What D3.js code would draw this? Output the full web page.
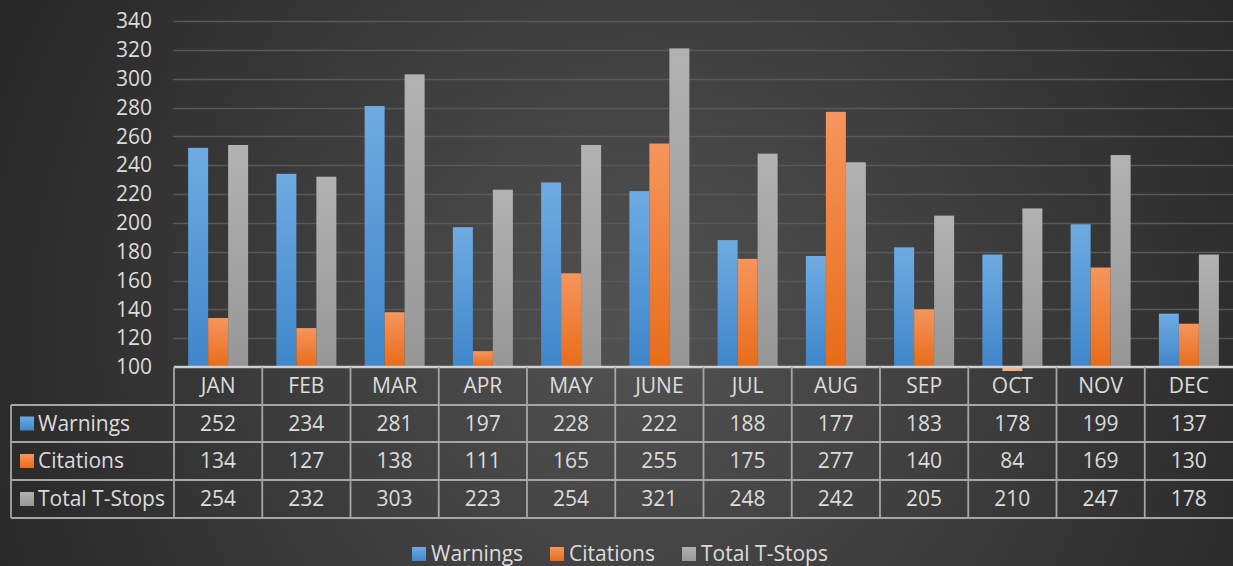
<!DOCTYPE html>
<html>
<head>
<meta charset="utf-8">
<script src="https://cdn.jsdelivr.net/npm/d3@7"></script>
<style>
  html, body { margin: 0; padding: 0; background: #333; }
  svg { display: block; }
</style>
</head>
<body>
<script>
const width = 1233;
const height = 566;

// data
const months = ['JAN', 'FEB', 'MAR', 'APR', 'MAY', 'JUNE', 'JUL', 'AUG', 'SEP', 'OCT', 'NOV', 'DEC'];
const seriesNames = ['Warnings', 'Citations', 'Total T-Stops'];
const warnings = [252, 234, 281, 197, 228, 222, 188, 177, 183, 178, 199, 137];
const citations = [134, 127, 138, 111, 165, 255, 175, 277, 140, 84, 169, 130];
const totalStops = [254, 232, 303, 223, 254, 321, 248, 242, 205, 210, 247, 178];
const yTicks = [100, 120, 140, 160, 180, 200, 220, 240, 260, 280, 300, 320, 340];

const seriesValues = [warnings, citations, totalStops];
const seriesColors = [
  { id: 'g-blue', top: '#6eabe2', bottom: '#3f86ca' },
  { id: 'g-orange', top: '#f6955d', bottom: '#e86c19' },
  { id: 'g-gray', top: '#b2b2b2', bottom: '#979797' },
];

const textColor = '#dcdcdc';
const fontFamily = '"Open Sans", "Noto Sans", sans-serif';
const fontSize = '21px';

const svg = d3.select('body')
  .append('svg')
  .attr('width', width)
  .attr('height', height)
  .attr('viewBox', `0 0 ${width} ${height}`);

const defs = svg.append('defs');

// background radial gradient
const bg = defs.append('radialGradient')
  .attr('id', 'bg')
  .attr('gradientUnits', 'userSpaceOnUse')
  .attr('cx', 640)
  .attr('cy', 330)
  .attr('r', 720);
bg.append('stop').attr('offset', '0%').attr('stop-color', '#525252');
bg.append('stop').attr('offset', '100%').attr('stop-color', '#262626');

seriesColors.forEach((c) => {
  const g = defs.append('linearGradient')
    .attr('id', c.id)
    .attr('x1', '0%').attr('y1', '0%')
    .attr('x2', '0%').attr('y2', '100%');
  g.append('stop').attr('offset', '0%').attr('stop-color', c.top);
  g.append('stop').attr('offset', '100%').attr('stop-color', c.bottom);
});

svg.append('rect')
  .attr('width', width)
  .attr('height', height)
  .attr('fill', 'url(#bg)');

// scales
const plotLeft = 174;
const plotRight = 1233;
const plotTop = 21;
const plotBottom = 367;

const x = d3.scaleBand()
  .domain(months)
  .range([plotLeft, plotRight])
  .paddingInner(0)
  .paddingOuter(0);

const groupWidth = 60;
const xInner = d3.scaleBand()
  .domain(seriesNames)
  .range([(x.bandwidth() - groupWidth) / 2, (x.bandwidth() + groupWidth) / 2]);

const y = d3.scaleLinear()
  .domain([100, 340])
  .range([plotBottom, plotTop]);

// gridlines
svg.append('g')
  .selectAll('line')
  .data(yTicks.slice(1))
  .enter()
  .append('line')
  .attr('x1', plotLeft - 1)
  .attr('x2', plotRight)
  .attr('y1', (d) => Math.round(y(d)) + 0.5)
  .attr('y2', (d) => Math.round(y(d)) + 0.5)
  .attr('stroke', '#595959')
  .attr('stroke-width', 1.3);

// y axis labels
const yAxis = svg.append('g')
  .attr('transform', `translate(${plotLeft - 22}, 0)`)
  .call(d3.axisLeft(y).tickValues(yTicks).tickSize(0).tickPadding(0));
yAxis.select('.domain').remove();
yAxis.selectAll('text')
  .attr('fill', textColor)
  .attr('font-size', fontSize)
  .attr('font-family', fontFamily);

// bars
seriesNames.forEach((name, si) => {
  const vals = seriesValues[si];
  svg.append('g')
    .selectAll('rect')
    .data(months.map((m, i) => ({ month: m, value: vals[i] })))
    .enter()
    .append('rect')
    .attr('x', (d) => x(d.month) + xInner(name))
    .attr('width', xInner.bandwidth())
    .attr('y', (d) => (d.value < 100 ? plotBottom + 1 : y(d.value)))
    .attr('height', (d) => (d.value < 100 ? 3 : plotBottom - y(d.value)))
    .attr('fill', (d) => (d.value < 100 ? '#f4b183' : `url(#${seriesColors[si].id})`));
});

// data table
const rowTops = [367, 405, 442, 480, 518];
const tableLeft = 11;
const lineColor = '#a6a6a6';
const table = svg.append('g');

// horizontal lines
rowTops.forEach((ry, i) => {
  table.append('line')
    .attr('x1', i === 0 ? plotLeft : tableLeft)
    .attr('x2', plotRight)
    .attr('y1', ry)
    .attr('y2', ry)
    .attr('stroke', i === 0 ? '#cfcfcf' : lineColor)
    .attr('stroke-width', i === 0 ? 2.5 : 1.8);
});

// vertical lines
months.forEach((m) => {
  table.append('line')
    .attr('x1', x(m))
    .attr('x2', x(m))
    .attr('y1', rowTops[0])
    .attr('y2', rowTops[4])
    .attr('stroke', lineColor)
    .attr('stroke-width', 1.8);
});
table.append('line')
  .attr('x1', tableLeft)
  .attr('x2', tableLeft)
  .attr('y1', rowTops[1])
  .attr('y2', rowTops[4])
  .attr('stroke', lineColor)
  .attr('stroke-width', 1.8);

// header
table.selectAll('.hdr')
  .data(months)
  .enter()
  .append('text')
  .attr('class', 'hdr')
  .attr('x', (d) => x(d) + x.bandwidth() / 2)
  .attr('y', (rowTops[0] + rowTops[1]) / 2)
  .attr('dy', '0.35em')
  .attr('text-anchor', 'middle')
  .attr('fill', textColor)
  .attr('font-size', fontSize)
  .attr('font-family', fontFamily)
  .text((d) => d);

// rows
seriesNames.forEach((name, si) => {
  const cy = (rowTops[si + 1] + rowTops[si + 2]) / 2;
  table.append('rect')
    .attr('x', 20)
    .attr('y', cy - 7)
    .attr('width', 14)
    .attr('height', 14)
    .attr('fill', `url(#${seriesColors[si].id})`);
  table.append('text')
    .attr('x', 38)
    .attr('y', cy)
    .attr('dy', '0.35em')
    .attr('fill', textColor)
    .attr('font-size', fontSize)
    .attr('font-family', fontFamily)
    .text(name);
  table.selectAll(`.v${si}`)
    .data(seriesValues[si])
    .enter()
    .append('text')
    .attr('class', `v${si}`)
    .attr('x', (d, i) => x(months[i]) + x.bandwidth() / 2)
    .attr('y', cy)
    .attr('dy', '0.35em')
    .attr('text-anchor', 'middle')
    .attr('fill', textColor)
    .attr('font-size', fontSize)
    .attr('font-family', fontFamily)
    .text((d) => d);
});

// legend
const legendItems = [
  { name: seriesNames[0], x: 412 },
  { name: seriesNames[1], x: 550 },
  { name: seriesNames[2], x: 682 },
];
const legend = svg.append('g').attr('transform', 'translate(0, 554)');
legendItems.forEach((item, i) => {
  legend.append('rect')
    .attr('x', item.x)
    .attr('y', -7)
    .attr('width', 14)
    .attr('height', 14)
    .attr('fill', `url(#${seriesColors[i].id})`);
  legend.append('text')
    .attr('x', item.x + 19)
    .attr('y', 0)
    .attr('dy', '0.35em')
    .attr('fill', textColor)
    .attr('font-size', fontSize)
    .attr('font-family', fontFamily)
    .text(item.name);
});
</script>
</body>
</html>
